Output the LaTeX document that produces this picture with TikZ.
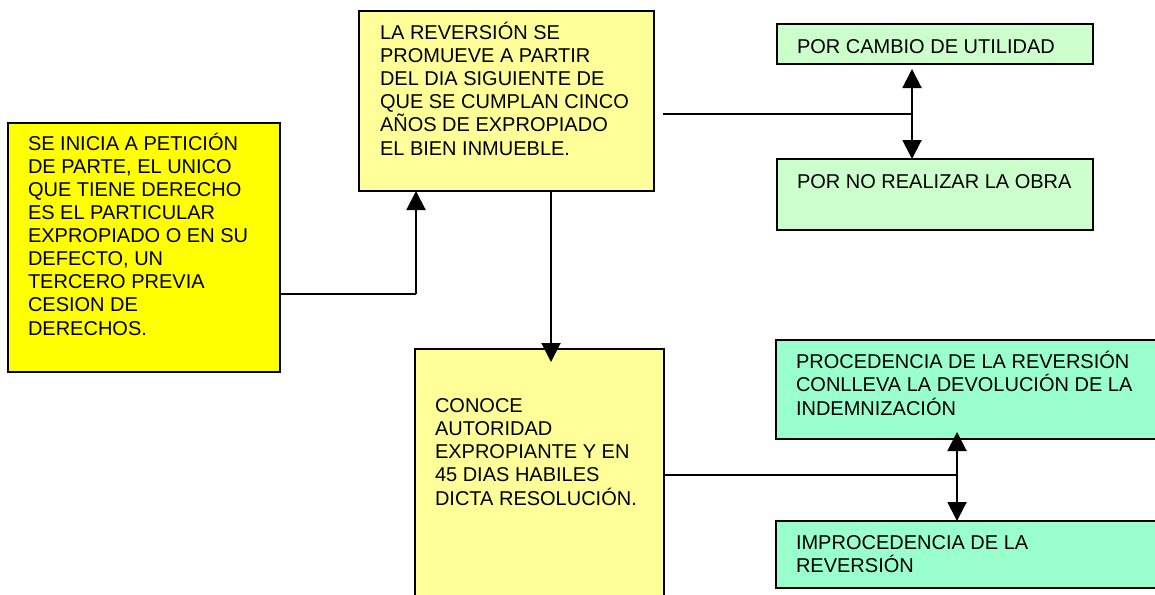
\documentclass[tikz,border=0pt]{standalone}
\usepackage{fontspec}
\setmainfont{Liberation Sans}
\usetikzlibrary{arrows.meta}
\definecolor{yel}{HTML}{FFFF00}
\definecolor{lyel}{HTML}{FFFF99}
\definecolor{lgreen}{HTML}{CCFFCC}
\definecolor{mgreen}{HTML}{99FFCC}
\tikzset{
  box/.style={draw=black, line width=2pt, rectangle, inner sep=0pt, outer sep=0pt, anchor=north west},
  txt/.style={inner sep=0pt, outer sep=0pt, anchor=base west, align=left, font=\fontsize{20pt}{23.1pt}\selectfont},
  conn/.style={line width=1.5pt},
  arr/.style={line width=2pt, -{Triangle[width=19pt,length=19pt]}}
}
\begin{document}
\begin{tikzpicture}[x=1pt,y=-1pt]
\useasboundingbox (0,0) rectangle (1155,594);
\clip (0,0) rectangle (1155,594);
% boxes
\node[box, fill=yel, minimum width=272pt, minimum height=249pt] (ini) at (8,123) {};
\node[box, fill=lyel, minimum width=295pt, minimum height=180pt] (rev) at (359,11) {};
\node[box, fill=lgreen, minimum width=316pt, minimum height=40pt] (util) at (777,24) {};
\node[box, fill=lgreen, minimum width=316pt, minimum height=71pt] (obra) at (777,159) {};
\node[box, fill=lyel, minimum width=249pt, minimum height=280pt] (conoce) at (415,349) {};
\node[box, fill=mgreen, minimum width=400pt, minimum height=99pt] (proc) at (776,340) {};
\node[box, fill=mgreen, minimum width=400pt, minimum height=67pt] (improc) at (776,521) {};
% texts (anchor = baseline of last line)
\node[txt] (tini) at (28,335) {SE INICIA A PETICIÓN\\DE PARTE, EL UNICO\\QUE TIENE DERECHO\\ES EL PARTICULAR\\EXPROPIADO O EN SU\\DEFECTO, UN\\TERCERO PREVIA\\CESION DE\\DERECHOS.};
\node[txt] (trev) at (380,155) {LA REVERSIÓN SE\\PROMUEVE A PARTIR\\DEL DIA SIGUIENTE DE\\QUE SE CUMPLAN CINCO\\AÑOS DE EXPROPIADO\\EL BIEN INMUEBLE.};
\node[txt] (tutil) at (797,53.5) {POR CAMBIO DE UTILIDAD};
\node[txt] (tobra) at (797,188.5) {POR NO REALIZAR LA OBRA};
\node[txt] (tconoce) at (435,505) {CONOCE\\AUTORIDAD\\EXPROPIANTE Y EN\\45 DIAS HABILES\\DICTA RESOLUCIÓN.};
\node[txt] (tproc) at (796,415) {PROCEDENCIA DE LA REVERSIÓN\\CONLLEVA LA DEVOLUCIÓN DE LA\\INDEMNIZACIÓN};
\node[txt] (timproc) at (796,572.5) {IMPROCEDENCIA DE LA\\REVERSIÓN};
% junctions
\coordinate (j1) at (416,294);
\coordinate (j2) at (551,191);
\coordinate (j3) at (912,114);
\coordinate (j4) at (957,475);
% connectors
\draw[conn] (ini.east |- j1) -- (j1);
\draw[arr] (j1) -- (rev.south -| j1);
\draw[arr] (rev.south -| j2) -- ([yshift=-13pt]conoce.north -| j2);
\draw[conn] ([xshift=9pt]rev.east |- j3) -- (j3);
\draw[arr] (j3) -- ([yshift=-5pt]util.south -| j3);
\draw[arr] (j3) -- (obra.north -| j3);
\draw[conn] (conoce.east |- j4) -- (j4);
\draw[arr] (j4) -- ([yshift=7pt]proc.south -| j4);
\draw[arr] (j4) -- (improc.north -| j4);
\end{tikzpicture}
\end{document}
